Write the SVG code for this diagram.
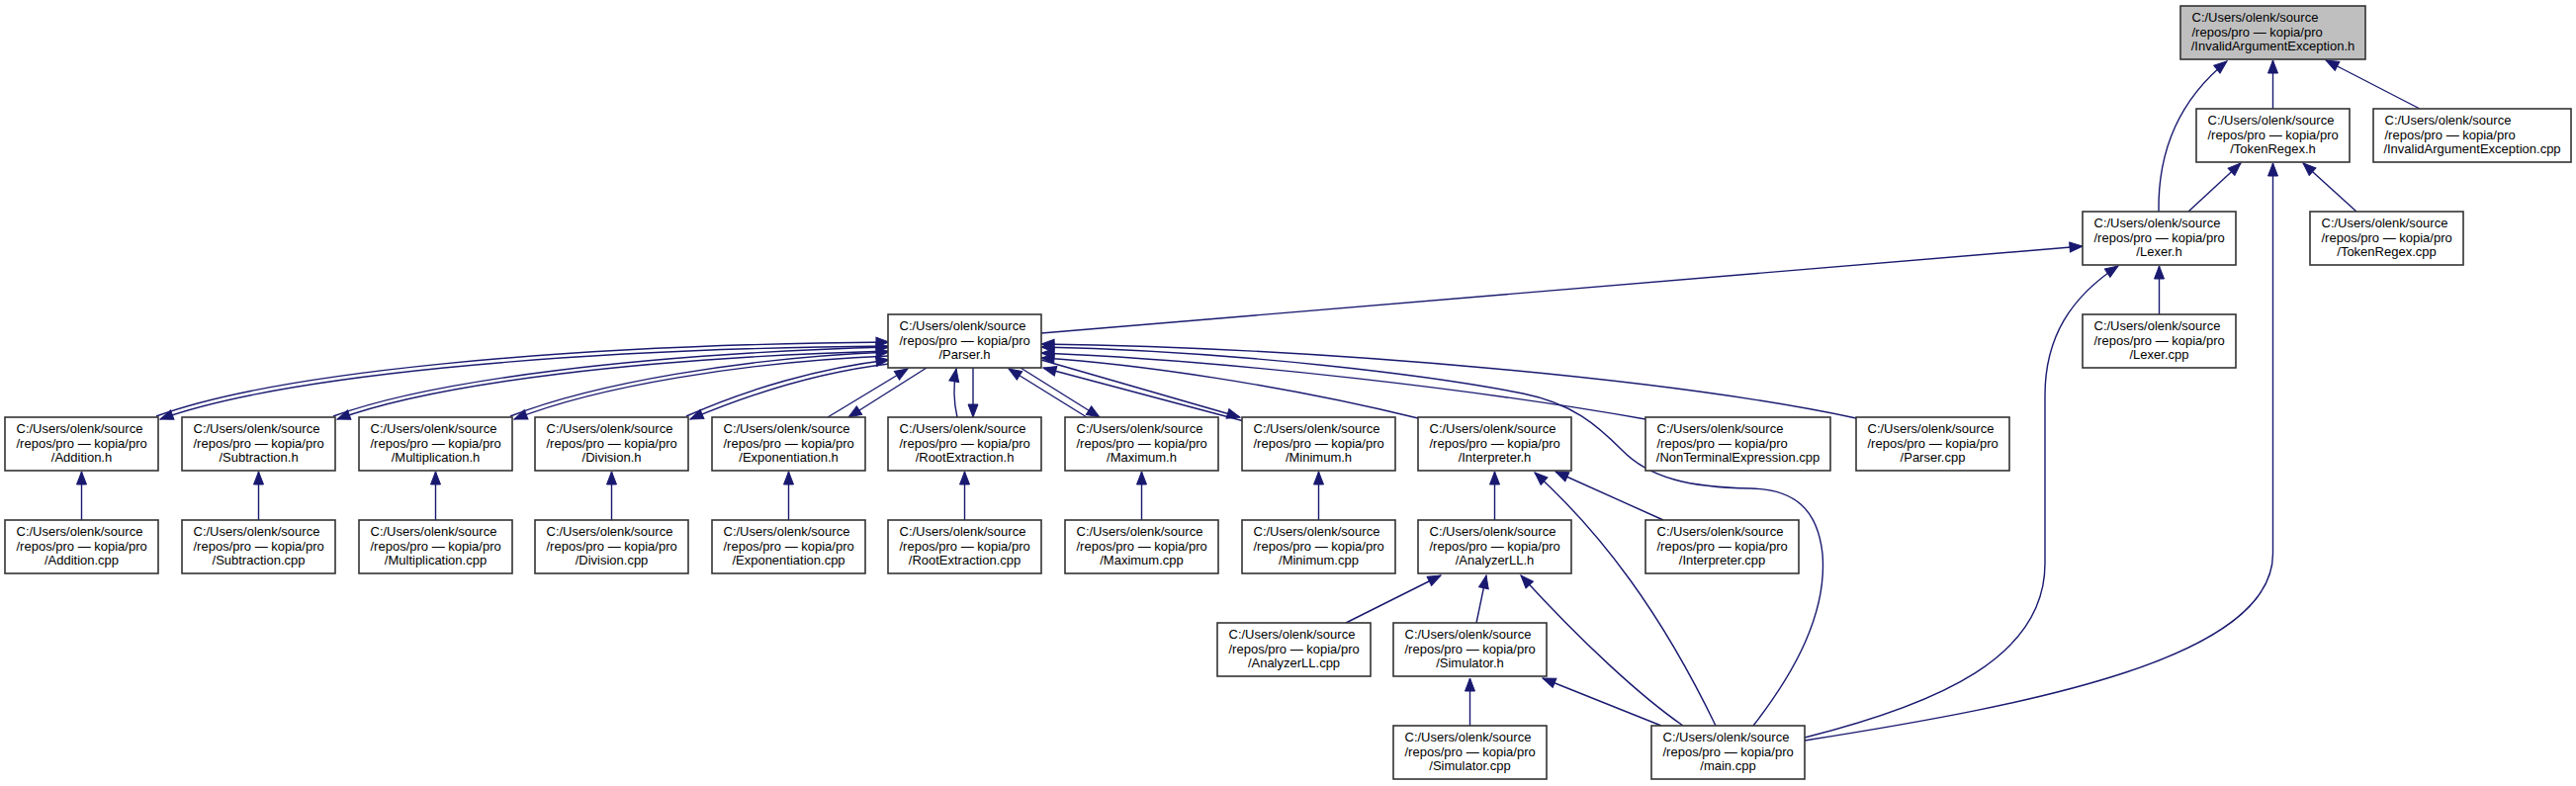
<svg xmlns="http://www.w3.org/2000/svg" width="2605" height="795" viewBox="0 0 2605 795">
<style>
.n rect{fill:#ffffff;stroke:#333333;stroke-width:1.6}
.n.root rect{fill:#bfbfbf}
.n text{font-family:"Liberation Sans",Arial,Helvetica,sans-serif;font-size:13px;fill:#000000}
.n tspan.c{text-anchor:middle}
#edges path{fill:none;stroke:#191970;stroke-width:1.4;marker-end:url(#arr)}
</style>
<defs>
<marker id="arr" markerUnits="userSpaceOnUse" markerWidth="13" markerHeight="10" refX="13" refY="5" orient="auto" overflow="visible">
<path d="M0,0 L13,5 L0,10 z" fill="#191970" stroke="#191970" stroke-width="1"/>
</marker>
</defs>
<rect width="2605" height="795" fill="#ffffff"/>
<g id="edges">
<path d="M2298.5,110 L2298.5,61"/>
<path d="M2447,110 L2352,61"/>
<path d="M2183,214 C2182,150 2205,100 2252,62"/>
<path d="M2213,214 L2266,165"/>
<path d="M2383,214 L2329,165"/>
<path d="M1825,749 C2060,712 2298.5,665 2298.5,560 L2298.5,165"/>
<path d="M2183.5,318 L2183.5,269"/>
<path d="M1825,746 C1960,712 2068,665 2068,570 L2068,400 C2068,340 2095,300 2142,269"/>
<path d="M1053,337 L2106,249"/>
<path d="M158,421 C278,377 560,349 899,346"/>
<path d="M899,350 C562,353 282,381 162,424"/>
<path d="M337,421 C438,384 650,358 899,351"/>
<path d="M899,355 C652,362 442,387 341,424"/>
<path d="M516,421 C600,388 750,362 899,356"/>
<path d="M899,360 C752,366 604,391 520,424"/>
<path d="M694,421 C757,393 830,372 899,364"/>
<path d="M899,368 C832,376 762,397 698,424"/>
<path d="M837,422 L918,373"/>
<path d="M937,372 L858,422"/>
<path d="M968,422 C964,405 964,390 967,373"/>
<path d="M984,372 L984,422"/>
<path d="M1099,422 L1020,373"/>
<path d="M1032,372 L1112,422"/>
<path d="M1258,426 L1055,372"/>
<path d="M1053,364 L1254,422"/>
<path d="M1434,423 C1300,390 1150,368 1053,362"/>
<path d="M1664,424 C1500,395 1250,365 1053,357"/>
<path d="M1877,423 C1700,385 1350,352 1053,348"/>
<path d="M1773,734 C1815,680 1848,620 1843,560 C1838,515 1815,495 1770,494 C1710,493 1668,484 1640,455 C1615,430 1590,408 1540,398 C1450,380 1250,355 1053,351"/>
<path d="M82.5,526 L82.5,477"/>
<path d="M261.5,526 L261.5,477"/>
<path d="M440.5,526 L440.5,477"/>
<path d="M618.5,526 L618.5,477"/>
<path d="M797.5,526 L797.5,477"/>
<path d="M975.5,526 L975.5,477"/>
<path d="M1154.5,526 L1154.5,477"/>
<path d="M1333.5,526 L1333.5,477"/>
<path d="M1511.5,526 L1511.5,477"/>
<path d="M1682,526 L1573,477"/>
<path d="M1735,734 C1680,620 1620,540 1552,478"/>
<path d="M1702,734 C1660,705 1600,650 1538,582"/>
<path d="M1680,734 L1560,686"/>
<path d="M1361,630 L1457,582"/>
<path d="M1493,630 L1503,582"/>
<path d="M1486.5,734 L1486.5,686"/>
</g>
<g id="n_InvalidArgumentException_h" class="n root"><rect x="2205" y="6" width="187" height="54"/><text><tspan x="2216.5" y="22">C:/Users/olenk/source</tspan><tspan x="2216.5" y="36.5">/repos/pro — kopia/pro</tspan><tspan class="c" x="2298.5" y="51">/InvalidArgumentException.h</tspan></text></g>
<g id="n_TokenRegex_h" class="n"><rect x="2221" y="110" width="155" height="54"/><text><tspan x="2232.5" y="126">C:/Users/olenk/source</tspan><tspan x="2232.5" y="140.5">/repos/pro — kopia/pro</tspan><tspan class="c" x="2298.5" y="155">/TokenRegex.h</tspan></text></g>
<g id="n_InvalidArgumentException_cpp" class="n"><rect x="2400" y="110" width="200" height="54"/><text><tspan x="2411.5" y="126">C:/Users/olenk/source</tspan><tspan x="2411.5" y="140.5">/repos/pro — kopia/pro</tspan><tspan class="c" x="2500" y="155">/InvalidArgumentException.cpp</tspan></text></g>
<g id="n_Lexer_h" class="n"><rect x="2106" y="214" width="155" height="54"/><text><tspan x="2117.5" y="230">C:/Users/olenk/source</tspan><tspan x="2117.5" y="244.5">/repos/pro — kopia/pro</tspan><tspan class="c" x="2183.5" y="259">/Lexer.h</tspan></text></g>
<g id="n_TokenRegex_cpp" class="n"><rect x="2336" y="214" width="155" height="54"/><text><tspan x="2347.5" y="230">C:/Users/olenk/source</tspan><tspan x="2347.5" y="244.5">/repos/pro — kopia/pro</tspan><tspan class="c" x="2413.5" y="259">/TokenRegex.cpp</tspan></text></g>
<g id="n_Parser_h" class="n"><rect x="898" y="318" width="155" height="54"/><text><tspan x="909.5" y="334">C:/Users/olenk/source</tspan><tspan x="909.5" y="348.5">/repos/pro — kopia/pro</tspan><tspan class="c" x="975.5" y="363">/Parser.h</tspan></text></g>
<g id="n_Lexer_cpp" class="n"><rect x="2106" y="318" width="155" height="54"/><text><tspan x="2117.5" y="334">C:/Users/olenk/source</tspan><tspan x="2117.5" y="348.5">/repos/pro — kopia/pro</tspan><tspan class="c" x="2183.5" y="363">/Lexer.cpp</tspan></text></g>
<g id="n_Addition_h" class="n"><rect x="5" y="422" width="155" height="54"/><text><tspan x="16.5" y="438">C:/Users/olenk/source</tspan><tspan x="16.5" y="452.5">/repos/pro — kopia/pro</tspan><tspan class="c" x="82.5" y="467">/Addition.h</tspan></text></g>
<g id="n_Subtraction_h" class="n"><rect x="184" y="422" width="155" height="54"/><text><tspan x="195.5" y="438">C:/Users/olenk/source</tspan><tspan x="195.5" y="452.5">/repos/pro — kopia/pro</tspan><tspan class="c" x="261.5" y="467">/Subtraction.h</tspan></text></g>
<g id="n_Multiplication_h" class="n"><rect x="363" y="422" width="155" height="54"/><text><tspan x="374.5" y="438">C:/Users/olenk/source</tspan><tspan x="374.5" y="452.5">/repos/pro — kopia/pro</tspan><tspan class="c" x="440.5" y="467">/Multiplication.h</tspan></text></g>
<g id="n_Division_h" class="n"><rect x="541" y="422" width="155" height="54"/><text><tspan x="552.5" y="438">C:/Users/olenk/source</tspan><tspan x="552.5" y="452.5">/repos/pro — kopia/pro</tspan><tspan class="c" x="618.5" y="467">/Division.h</tspan></text></g>
<g id="n_Exponentiation_h" class="n"><rect x="720" y="422" width="155" height="54"/><text><tspan x="731.5" y="438">C:/Users/olenk/source</tspan><tspan x="731.5" y="452.5">/repos/pro — kopia/pro</tspan><tspan class="c" x="797.5" y="467">/Exponentiation.h</tspan></text></g>
<g id="n_RootExtraction_h" class="n"><rect x="898" y="422" width="155" height="54"/><text><tspan x="909.5" y="438">C:/Users/olenk/source</tspan><tspan x="909.5" y="452.5">/repos/pro — kopia/pro</tspan><tspan class="c" x="975.5" y="467">/RootExtraction.h</tspan></text></g>
<g id="n_Maximum_h" class="n"><rect x="1077" y="422" width="155" height="54"/><text><tspan x="1088.5" y="438">C:/Users/olenk/source</tspan><tspan x="1088.5" y="452.5">/repos/pro — kopia/pro</tspan><tspan class="c" x="1154.5" y="467">/Maximum.h</tspan></text></g>
<g id="n_Minimum_h" class="n"><rect x="1256" y="422" width="155" height="54"/><text><tspan x="1267.5" y="438">C:/Users/olenk/source</tspan><tspan x="1267.5" y="452.5">/repos/pro — kopia/pro</tspan><tspan class="c" x="1333.5" y="467">/Minimum.h</tspan></text></g>
<g id="n_Interpreter_h" class="n"><rect x="1434" y="422" width="155" height="54"/><text><tspan x="1445.5" y="438">C:/Users/olenk/source</tspan><tspan x="1445.5" y="452.5">/repos/pro — kopia/pro</tspan><tspan class="c" x="1511.5" y="467">/Interpreter.h</tspan></text></g>
<g id="n_NonTerminalExpression_cpp" class="n"><rect x="1664" y="422" width="187" height="54"/><text><tspan x="1675.5" y="438">C:/Users/olenk/source</tspan><tspan x="1675.5" y="452.5">/repos/pro — kopia/pro</tspan><tspan class="c" x="1757.5" y="467">/NonTerminalExpression.cpp</tspan></text></g>
<g id="n_Parser_cpp" class="n"><rect x="1877" y="422" width="155" height="54"/><text><tspan x="1888.5" y="438">C:/Users/olenk/source</tspan><tspan x="1888.5" y="452.5">/repos/pro — kopia/pro</tspan><tspan class="c" x="1954.5" y="467">/Parser.cpp</tspan></text></g>
<g id="n_Addition_cpp" class="n"><rect x="5" y="526" width="155" height="54"/><text><tspan x="16.5" y="542">C:/Users/olenk/source</tspan><tspan x="16.5" y="556.5">/repos/pro — kopia/pro</tspan><tspan class="c" x="82.5" y="571">/Addition.cpp</tspan></text></g>
<g id="n_Subtraction_cpp" class="n"><rect x="184" y="526" width="155" height="54"/><text><tspan x="195.5" y="542">C:/Users/olenk/source</tspan><tspan x="195.5" y="556.5">/repos/pro — kopia/pro</tspan><tspan class="c" x="261.5" y="571">/Subtraction.cpp</tspan></text></g>
<g id="n_Multiplication_cpp" class="n"><rect x="363" y="526" width="155" height="54"/><text><tspan x="374.5" y="542">C:/Users/olenk/source</tspan><tspan x="374.5" y="556.5">/repos/pro — kopia/pro</tspan><tspan class="c" x="440.5" y="571">/Multiplication.cpp</tspan></text></g>
<g id="n_Division_cpp" class="n"><rect x="541" y="526" width="155" height="54"/><text><tspan x="552.5" y="542">C:/Users/olenk/source</tspan><tspan x="552.5" y="556.5">/repos/pro — kopia/pro</tspan><tspan class="c" x="618.5" y="571">/Division.cpp</tspan></text></g>
<g id="n_Exponentiation_cpp" class="n"><rect x="720" y="526" width="155" height="54"/><text><tspan x="731.5" y="542">C:/Users/olenk/source</tspan><tspan x="731.5" y="556.5">/repos/pro — kopia/pro</tspan><tspan class="c" x="797.5" y="571">/Exponentiation.cpp</tspan></text></g>
<g id="n_RootExtraction_cpp" class="n"><rect x="898" y="526" width="155" height="54"/><text><tspan x="909.5" y="542">C:/Users/olenk/source</tspan><tspan x="909.5" y="556.5">/repos/pro — kopia/pro</tspan><tspan class="c" x="975.5" y="571">/RootExtraction.cpp</tspan></text></g>
<g id="n_Maximum_cpp" class="n"><rect x="1077" y="526" width="155" height="54"/><text><tspan x="1088.5" y="542">C:/Users/olenk/source</tspan><tspan x="1088.5" y="556.5">/repos/pro — kopia/pro</tspan><tspan class="c" x="1154.5" y="571">/Maximum.cpp</tspan></text></g>
<g id="n_Minimum_cpp" class="n"><rect x="1256" y="526" width="155" height="54"/><text><tspan x="1267.5" y="542">C:/Users/olenk/source</tspan><tspan x="1267.5" y="556.5">/repos/pro — kopia/pro</tspan><tspan class="c" x="1333.5" y="571">/Minimum.cpp</tspan></text></g>
<g id="n_AnalyzerLL_h" class="n"><rect x="1434" y="526" width="155" height="54"/><text><tspan x="1445.5" y="542">C:/Users/olenk/source</tspan><tspan x="1445.5" y="556.5">/repos/pro — kopia/pro</tspan><tspan class="c" x="1511.5" y="571">/AnalyzerLL.h</tspan></text></g>
<g id="n_Interpreter_cpp" class="n"><rect x="1664" y="526" width="155" height="54"/><text><tspan x="1675.5" y="542">C:/Users/olenk/source</tspan><tspan x="1675.5" y="556.5">/repos/pro — kopia/pro</tspan><tspan class="c" x="1741.5" y="571">/Interpreter.cpp</tspan></text></g>
<g id="n_AnalyzerLL_cpp" class="n"><rect x="1231" y="630" width="155" height="54"/><text><tspan x="1242.5" y="646">C:/Users/olenk/source</tspan><tspan x="1242.5" y="660.5">/repos/pro — kopia/pro</tspan><tspan class="c" x="1308.5" y="675">/AnalyzerLL.cpp</tspan></text></g>
<g id="n_Simulator_h" class="n"><rect x="1409" y="630" width="155" height="54"/><text><tspan x="1420.5" y="646">C:/Users/olenk/source</tspan><tspan x="1420.5" y="660.5">/repos/pro — kopia/pro</tspan><tspan class="c" x="1486.5" y="675">/Simulator.h</tspan></text></g>
<g id="n_Simulator_cpp" class="n"><rect x="1409" y="734" width="155" height="54"/><text><tspan x="1420.5" y="750">C:/Users/olenk/source</tspan><tspan x="1420.5" y="764.5">/repos/pro — kopia/pro</tspan><tspan class="c" x="1486.5" y="779">/Simulator.cpp</tspan></text></g>
<g id="n_main_cpp" class="n"><rect x="1670" y="734" width="155" height="54"/><text><tspan x="1681.5" y="750">C:/Users/olenk/source</tspan><tspan x="1681.5" y="764.5">/repos/pro — kopia/pro</tspan><tspan class="c" x="1747.5" y="779">/main.cpp</tspan></text></g>
</svg>
